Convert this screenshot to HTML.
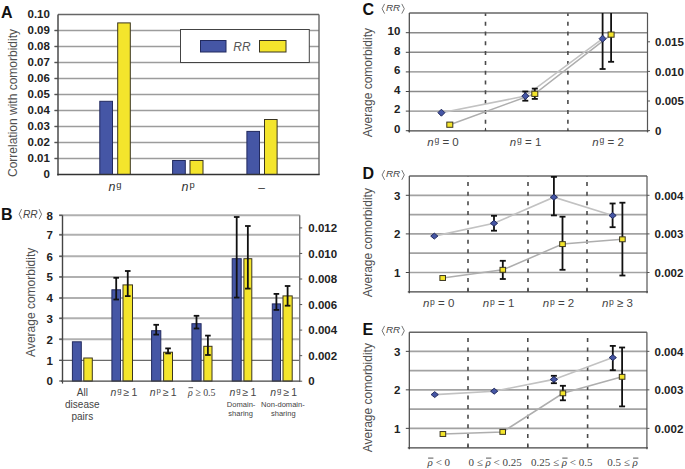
<!DOCTYPE html>
<html><head><meta charset="utf-8"><style>
html,body{margin:0;padding:0;background:#fff;overflow:hidden;width:685px;height:469px;}
svg{display:block;}
</style></head><body>
<svg width="685" height="469" viewBox="0 0 685 469">
<rect width="685" height="469" fill="#fff"/>
<line x1="54.5" y1="30.5" x2="319" y2="30.5" stroke="#9c9c9c" stroke-width="1.5" />
<line x1="54.5" y1="30.5" x2="58" y2="30.5" stroke="#555" stroke-width="1.2" />
<line x1="54.5" y1="46.5" x2="319" y2="46.5" stroke="#9c9c9c" stroke-width="1.5" />
<line x1="54.5" y1="46.5" x2="58" y2="46.5" stroke="#555" stroke-width="1.2" />
<line x1="54.5" y1="62.5" x2="319" y2="62.5" stroke="#9c9c9c" stroke-width="1.5" />
<line x1="54.5" y1="62.5" x2="58" y2="62.5" stroke="#555" stroke-width="1.2" />
<line x1="54.5" y1="78.5" x2="319" y2="78.5" stroke="#9c9c9c" stroke-width="1.5" />
<line x1="54.5" y1="78.5" x2="58" y2="78.5" stroke="#555" stroke-width="1.2" />
<line x1="54.5" y1="94.5" x2="319" y2="94.5" stroke="#9c9c9c" stroke-width="1.5" />
<line x1="54.5" y1="94.5" x2="58" y2="94.5" stroke="#555" stroke-width="1.2" />
<line x1="54.5" y1="110.5" x2="319" y2="110.5" stroke="#9c9c9c" stroke-width="1.5" />
<line x1="54.5" y1="110.5" x2="58" y2="110.5" stroke="#555" stroke-width="1.2" />
<line x1="54.5" y1="126.5" x2="319" y2="126.5" stroke="#9c9c9c" stroke-width="1.5" />
<line x1="54.5" y1="126.5" x2="58" y2="126.5" stroke="#555" stroke-width="1.2" />
<line x1="54.5" y1="142.5" x2="319" y2="142.5" stroke="#9c9c9c" stroke-width="1.5" />
<line x1="54.5" y1="142.5" x2="58" y2="142.5" stroke="#555" stroke-width="1.2" />
<line x1="54.5" y1="158.5" x2="319" y2="158.5" stroke="#9c9c9c" stroke-width="1.5" />
<line x1="54.5" y1="158.5" x2="58" y2="158.5" stroke="#555" stroke-width="1.2" />
<line x1="58" y1="14.5" x2="319" y2="14.5" stroke="#666" stroke-width="1.4" />
<line x1="319" y1="14.5" x2="319" y2="174.5" stroke="#666" stroke-width="1.4" />
<line x1="58" y1="14.5" x2="58" y2="175.5" stroke="#4a4a4a" stroke-width="1.5" />
<text x="49.9" y="18.1" font-family='"Liberation Sans", sans-serif' font-size="11.5" font-weight="bold" font-style="normal" fill="#222" text-anchor="end" >0.10</text>
<text x="49.9" y="34.1" font-family='"Liberation Sans", sans-serif' font-size="11.5" font-weight="bold" font-style="normal" fill="#222" text-anchor="end" >0.09</text>
<text x="49.9" y="50.1" font-family='"Liberation Sans", sans-serif' font-size="11.5" font-weight="bold" font-style="normal" fill="#222" text-anchor="end" >0.08</text>
<text x="49.9" y="66.1" font-family='"Liberation Sans", sans-serif' font-size="11.5" font-weight="bold" font-style="normal" fill="#222" text-anchor="end" >0.07</text>
<text x="49.9" y="82.1" font-family='"Liberation Sans", sans-serif' font-size="11.5" font-weight="bold" font-style="normal" fill="#222" text-anchor="end" >0.06</text>
<text x="49.9" y="98.1" font-family='"Liberation Sans", sans-serif' font-size="11.5" font-weight="bold" font-style="normal" fill="#222" text-anchor="end" >0.05</text>
<text x="49.9" y="114.1" font-family='"Liberation Sans", sans-serif' font-size="11.5" font-weight="bold" font-style="normal" fill="#222" text-anchor="end" >0.04</text>
<text x="49.9" y="130.1" font-family='"Liberation Sans", sans-serif' font-size="11.5" font-weight="bold" font-style="normal" fill="#222" text-anchor="end" >0.03</text>
<text x="49.9" y="146.1" font-family='"Liberation Sans", sans-serif' font-size="11.5" font-weight="bold" font-style="normal" fill="#222" text-anchor="end" >0.02</text>
<text x="49.9" y="162.1" font-family='"Liberation Sans", sans-serif' font-size="11.5" font-weight="bold" font-style="normal" fill="#222" text-anchor="end" >0.01</text>
<text x="49.9" y="178.1" font-family='"Liberation Sans", sans-serif' font-size="11.5" font-weight="bold" font-style="normal" fill="#222" text-anchor="end" >0</text>
<rect x="99.8" y="101.3" width="12.700000000000003" height="73.2" fill="#4556a5" stroke="#222a5e" stroke-width="1"/>
<rect x="117.7" y="22.9" width="12.600000000000009" height="151.6" fill="#f4e52c" stroke="#3a3520" stroke-width="1"/>
<rect x="172.6" y="160.5" width="12.700000000000017" height="14.0" fill="#4556a5" stroke="#222a5e" stroke-width="1"/>
<rect x="190.0" y="160.5" width="13.0" height="14.0" fill="#f4e52c" stroke="#3a3520" stroke-width="1"/>
<rect x="246.9" y="131.4" width="12.599999999999994" height="43.099999999999994" fill="#4556a5" stroke="#222a5e" stroke-width="1"/>
<rect x="264.5" y="119.5" width="12.600000000000023" height="55.0" fill="#f4e52c" stroke="#3a3520" stroke-width="1"/>
<line x1="57.3" y1="174.5" x2="319.7" y2="174.5" stroke="#333" stroke-width="1.4" />
<rect x="180.5" y="29.5" width="128.8" height="33" fill="#fff" stroke="#444" stroke-width="1"/>
<rect x="200.5" y="40.5" width="25.5" height="11.5" fill="#4556a5" stroke="#222a5e" stroke-width="1"/>
<rect x="259.5" y="40.5" width="26.5" height="11.5" fill="#f4e52c" stroke="#3a3520" stroke-width="1"/>
<text x="242" y="50.8" font-family='"Liberation Sans", sans-serif' font-size="12" font-weight="normal" font-style="italic" fill="#555" text-anchor="middle" >RR</text>
<text x="108.4" y="191.0" font-family='"Liberation Sans", sans-serif' font-size="12.5" fill="#333"><tspan font-style="italic">n</tspan><tspan font-size="9.375" dx="1.0" dy="-2.7">g</tspan><tspan dx="0" dy="2.7"></tspan></text>
<text x="181.6" y="190.8" font-family='"Liberation Sans", sans-serif' font-size="12.5" fill="#333"><tspan font-style="italic">n</tspan><tspan font-size="9.375" dx="1.0" dy="-2.7">p</tspan><tspan dx="0" dy="2.7"></tspan></text>
<text x="261.7" y="191.5" font-family='"Liberation Sans", sans-serif' font-size="12" font-weight="normal" font-style="normal" fill="#444444" text-anchor="middle" >–</text>
<text x="1" y="17.6" font-family='"Liberation Sans", sans-serif' font-size="16" font-weight="bold" font-style="normal" fill="#111" text-anchor="start" >A</text>
<text transform="translate(16.8,103) rotate(-90)" x="0" y="0" font-family='"Liberation Sans", sans-serif' font-size="12" fill="#505050" text-anchor="middle">Correlation with comorbidity</text>
<line x1="59.2" y1="360.4" x2="299.7" y2="360.4" stroke="#6a6a6a" stroke-width="1.2" />
<line x1="59.2" y1="339.2" x2="299.7" y2="339.2" stroke="#b0b0b0" stroke-width="2.0" />
<line x1="59.2" y1="318.3" x2="299.7" y2="318.3" stroke="#b0b0b0" stroke-width="2.0" />
<line x1="59.2" y1="298.0" x2="299.7" y2="298.0" stroke="#b0b0b0" stroke-width="2.0" />
<line x1="59.2" y1="276.9" x2="299.7" y2="276.9" stroke="#b0b0b0" stroke-width="2.0" />
<line x1="59.2" y1="256.3" x2="299.7" y2="256.3" stroke="#b0b0b0" stroke-width="2.0" />
<line x1="59.2" y1="234.8" x2="299.7" y2="234.8" stroke="#b0b0b0" stroke-width="2.0" />
<line x1="59.2" y1="215.3" x2="299.7" y2="215.3" stroke="#b0b0b0" stroke-width="2.0" />
<line x1="62.5" y1="215.3" x2="62.5" y2="381.1" stroke="#444" stroke-width="1.4" />
<line x1="299.7" y1="215.3" x2="299.7" y2="382.1" stroke="#777" stroke-width="1.4" />
<line x1="59.2" y1="381.0" x2="62.5" y2="381.0" stroke="#555" stroke-width="1.2" />
<text x="52.8" y="385.3" font-family='"Liberation Sans", sans-serif' font-size="11.5" font-weight="bold" font-style="normal" fill="#222" text-anchor="end" >0</text>
<line x1="59.2" y1="360.4" x2="62.5" y2="360.4" stroke="#555" stroke-width="1.2" />
<text x="52.8" y="364.7" font-family='"Liberation Sans", sans-serif' font-size="11.5" font-weight="bold" font-style="normal" fill="#222" text-anchor="end" >1</text>
<line x1="59.2" y1="339.2" x2="62.5" y2="339.2" stroke="#555" stroke-width="1.2" />
<text x="52.8" y="343.5" font-family='"Liberation Sans", sans-serif' font-size="11.5" font-weight="bold" font-style="normal" fill="#222" text-anchor="end" >2</text>
<line x1="59.2" y1="318.3" x2="62.5" y2="318.3" stroke="#555" stroke-width="1.2" />
<text x="52.8" y="322.6" font-family='"Liberation Sans", sans-serif' font-size="11.5" font-weight="bold" font-style="normal" fill="#222" text-anchor="end" >3</text>
<line x1="59.2" y1="298.0" x2="62.5" y2="298.0" stroke="#555" stroke-width="1.2" />
<text x="52.8" y="302.3" font-family='"Liberation Sans", sans-serif' font-size="11.5" font-weight="bold" font-style="normal" fill="#222" text-anchor="end" >4</text>
<line x1="59.2" y1="276.9" x2="62.5" y2="276.9" stroke="#555" stroke-width="1.2" />
<text x="52.8" y="281.2" font-family='"Liberation Sans", sans-serif' font-size="11.5" font-weight="bold" font-style="normal" fill="#222" text-anchor="end" >5</text>
<line x1="59.2" y1="256.3" x2="62.5" y2="256.3" stroke="#555" stroke-width="1.2" />
<text x="52.8" y="260.6" font-family='"Liberation Sans", sans-serif' font-size="11.5" font-weight="bold" font-style="normal" fill="#222" text-anchor="end" >6</text>
<line x1="59.2" y1="234.8" x2="62.5" y2="234.8" stroke="#555" stroke-width="1.2" />
<text x="52.8" y="239.10000000000002" font-family='"Liberation Sans", sans-serif' font-size="11.5" font-weight="bold" font-style="normal" fill="#222" text-anchor="end" >7</text>
<line x1="59.2" y1="215.3" x2="62.5" y2="215.3" stroke="#555" stroke-width="1.2" />
<text x="52.8" y="219.60000000000002" font-family='"Liberation Sans", sans-serif' font-size="11.5" font-weight="bold" font-style="normal" fill="#222" text-anchor="end" >8</text>
<line x1="299.7" y1="381.2" x2="302.2" y2="381.2" stroke="#555" stroke-width="1" />
<text x="308.3" y="385.3" font-family='"Liberation Sans", sans-serif' font-size="11.5" font-weight="bold" font-style="normal" fill="#222" text-anchor="start" >0</text>
<line x1="299.7" y1="355.65" x2="302.2" y2="355.65" stroke="#555" stroke-width="1" />
<text x="308.3" y="359.75" font-family='"Liberation Sans", sans-serif' font-size="11.5" font-weight="bold" font-style="normal" fill="#222" text-anchor="start" >0.002</text>
<line x1="299.7" y1="330.09999999999997" x2="302.2" y2="330.09999999999997" stroke="#555" stroke-width="1" />
<text x="308.3" y="334.2" font-family='"Liberation Sans", sans-serif' font-size="11.5" font-weight="bold" font-style="normal" fill="#222" text-anchor="start" >0.004</text>
<line x1="299.7" y1="304.54999999999995" x2="302.2" y2="304.54999999999995" stroke="#555" stroke-width="1" />
<text x="308.3" y="308.65" font-family='"Liberation Sans", sans-serif' font-size="11.5" font-weight="bold" font-style="normal" fill="#222" text-anchor="start" >0.006</text>
<line x1="299.7" y1="279.0" x2="302.2" y2="279.0" stroke="#555" stroke-width="1" />
<text x="308.3" y="283.1" font-family='"Liberation Sans", sans-serif' font-size="11.5" font-weight="bold" font-style="normal" fill="#222" text-anchor="start" >0.008</text>
<line x1="299.7" y1="253.45" x2="302.2" y2="253.45" stroke="#555" stroke-width="1" />
<text x="308.3" y="257.55" font-family='"Liberation Sans", sans-serif' font-size="11.5" font-weight="bold" font-style="normal" fill="#222" text-anchor="start" >0.010</text>
<line x1="299.7" y1="227.89999999999998" x2="302.2" y2="227.89999999999998" stroke="#555" stroke-width="1" />
<text x="308.3" y="231.99999999999997" font-family='"Liberation Sans", sans-serif' font-size="11.5" font-weight="bold" font-style="normal" fill="#222" text-anchor="start" >0.012</text>
<rect x="72.4" y="341.8" width="8.899999999999991" height="39.30000000000001" fill="#4556a5" stroke="#222a5e" stroke-width="1"/>
<rect x="83.8" y="358.0" width="8.5" height="23.100000000000023" fill="#f4e52c" stroke="#3a3520" stroke-width="1"/>
<rect x="111.9" y="289.8" width="8.599999999999994" height="91.30000000000001" fill="#4556a5" stroke="#222a5e" stroke-width="1"/>
<rect x="123.0" y="284.9" width="9.5" height="96.20000000000005" fill="#f4e52c" stroke="#3a3520" stroke-width="1"/>
<rect x="151.6" y="330.7" width="9.200000000000017" height="50.400000000000034" fill="#4556a5" stroke="#222a5e" stroke-width="1"/>
<rect x="163.6" y="352.2" width="8.900000000000006" height="28.900000000000034" fill="#f4e52c" stroke="#3a3520" stroke-width="1"/>
<rect x="191.9" y="323.7" width="9.199999999999989" height="57.400000000000034" fill="#4556a5" stroke="#222a5e" stroke-width="1"/>
<rect x="203.8" y="346.3" width="8.199999999999989" height="34.80000000000001" fill="#f4e52c" stroke="#3a3520" stroke-width="1"/>
<rect x="232.2" y="258.7" width="9.0" height="122.40000000000003" fill="#4556a5" stroke="#222a5e" stroke-width="1"/>
<rect x="243.9" y="258.7" width="7.900000000000006" height="122.40000000000003" fill="#f4e52c" stroke="#3a3520" stroke-width="1"/>
<rect x="272.3" y="303.9" width="8.199999999999989" height="77.20000000000005" fill="#4556a5" stroke="#222a5e" stroke-width="1"/>
<rect x="283.0" y="295.9" width="9.199999999999989" height="85.20000000000005" fill="#f4e52c" stroke="#3a3520" stroke-width="1"/>
<line x1="116.2" y1="277.8" x2="116.2" y2="299.5" stroke="#111" stroke-width="1.8" />
<line x1="113.4" y1="277.8" x2="119.0" y2="277.8" stroke="#111" stroke-width="1.8" />
<line x1="113.4" y1="299.5" x2="119.0" y2="299.5" stroke="#111" stroke-width="1.8" />
<line x1="127.75" y1="271.0" x2="127.75" y2="296.1" stroke="#111" stroke-width="1.8" />
<line x1="124.95" y1="271.0" x2="130.55" y2="271.0" stroke="#111" stroke-width="1.8" />
<line x1="124.95" y1="296.1" x2="130.55" y2="296.1" stroke="#111" stroke-width="1.8" />
<line x1="156.2" y1="324.8" x2="156.2" y2="334.6" stroke="#111" stroke-width="1.8" />
<line x1="153.39999999999998" y1="324.8" x2="159.0" y2="324.8" stroke="#111" stroke-width="1.8" />
<line x1="153.39999999999998" y1="334.6" x2="159.0" y2="334.6" stroke="#111" stroke-width="1.8" />
<line x1="168.05" y1="348.4" x2="168.05" y2="353.4" stroke="#111" stroke-width="1.8" />
<line x1="165.25" y1="348.4" x2="170.85000000000002" y2="348.4" stroke="#111" stroke-width="1.8" />
<line x1="165.25" y1="353.4" x2="170.85000000000002" y2="353.4" stroke="#111" stroke-width="1.8" />
<line x1="196.5" y1="315.8" x2="196.5" y2="328.5" stroke="#111" stroke-width="1.8" />
<line x1="193.7" y1="315.8" x2="199.3" y2="315.8" stroke="#111" stroke-width="1.8" />
<line x1="193.7" y1="328.5" x2="199.3" y2="328.5" stroke="#111" stroke-width="1.8" />
<line x1="207.9" y1="335.6" x2="207.9" y2="355.0" stroke="#111" stroke-width="1.8" />
<line x1="205.1" y1="335.6" x2="210.70000000000002" y2="335.6" stroke="#111" stroke-width="1.8" />
<line x1="205.1" y1="355.0" x2="210.70000000000002" y2="355.0" stroke="#111" stroke-width="1.8" />
<line x1="236.7" y1="217.0" x2="236.7" y2="297.6" stroke="#111" stroke-width="1.8" />
<line x1="233.89999999999998" y1="217.0" x2="239.5" y2="217.0" stroke="#111" stroke-width="1.8" />
<line x1="233.89999999999998" y1="297.6" x2="239.5" y2="297.6" stroke="#111" stroke-width="1.8" />
<line x1="247.85000000000002" y1="226.0" x2="247.85000000000002" y2="288.6" stroke="#111" stroke-width="1.8" />
<line x1="245.05" y1="226.0" x2="250.65000000000003" y2="226.0" stroke="#111" stroke-width="1.8" />
<line x1="245.05" y1="288.6" x2="250.65000000000003" y2="288.6" stroke="#111" stroke-width="1.8" />
<line x1="276.4" y1="293.9" x2="276.4" y2="309.9" stroke="#111" stroke-width="1.8" />
<line x1="273.59999999999997" y1="293.9" x2="279.2" y2="293.9" stroke="#111" stroke-width="1.8" />
<line x1="273.59999999999997" y1="309.9" x2="279.2" y2="309.9" stroke="#111" stroke-width="1.8" />
<line x1="287.6" y1="286.0" x2="287.6" y2="305.7" stroke="#111" stroke-width="1.8" />
<line x1="284.8" y1="286.0" x2="290.40000000000003" y2="286.0" stroke="#111" stroke-width="1.8" />
<line x1="284.8" y1="305.7" x2="290.40000000000003" y2="305.7" stroke="#111" stroke-width="1.8" />
<line x1="61.0" y1="381.1" x2="299.7" y2="381.1" stroke="#444" stroke-width="1.3" />
<line x1="62.5" y1="381.1" x2="62.5" y2="383.6" stroke="#444" stroke-width="1.2" />
<text x="1" y="219.6" font-family='"Liberation Sans", sans-serif' font-size="16" font-weight="bold" font-style="normal" fill="#111" text-anchor="start" >B</text>
<path d="M21.6,209.1 L19.1,214.2 L21.6,219.3" fill="none" stroke="#666" stroke-width="0.9"/>
<path d="M39.1,209.1 L41.6,214.2 L39.1,219.3" fill="none" stroke="#666" stroke-width="0.9"/>
<text x="22.9" y="217.8" font-family='"Liberation Sans", sans-serif' font-size="10.2" font-style="italic" fill="#444">RR</text>
<text transform="translate(35.3,302.3) rotate(-90)" x="0" y="0" font-family='"Liberation Sans", sans-serif' font-size="12" fill="#505050" text-anchor="middle">Average comorbidity</text>
<text x="82.3" y="396.3" font-family='"Liberation Sans", sans-serif' font-size="10" font-weight="normal" font-style="normal" fill="#444444" text-anchor="middle" >All</text>
<text x="82.3" y="408.0" font-family='"Liberation Sans", sans-serif' font-size="10" font-weight="normal" font-style="normal" fill="#444444" text-anchor="middle" >disease</text>
<text x="82.3" y="420.0" font-family='"Liberation Sans", sans-serif' font-size="10" font-weight="normal" font-style="normal" fill="#444444" text-anchor="middle" >pairs</text>
<text x="110.5" y="396.3" font-family='"Liberation Sans", sans-serif' font-size="10.5" fill="#444"><tspan font-style="italic">n</tspan><tspan font-size="7.875" dx="0.8" dy="-3.2">g</tspan><tspan dx="0" dy="3.2"> ≥ 1</tspan></text>
<text x="149.8" y="396.3" font-family='"Liberation Sans", sans-serif' font-size="10.5" fill="#444"><tspan font-style="italic">n</tspan><tspan font-size="7.875" dx="0.8" dy="-3.2">p</tspan><tspan dx="0" dy="3.2"> ≥ 1</tspan></text>
<text x="229.5" y="396.3" font-family='"Liberation Sans", sans-serif' font-size="10.5" fill="#444"><tspan font-style="italic">n</tspan><tspan font-size="7.875" dx="0.8" dy="-3.2">g</tspan><tspan dx="0" dy="3.2"> ≥ 1</tspan></text>
<text x="270.3" y="396.3" font-family='"Liberation Sans", sans-serif' font-size="10.5" fill="#444"><tspan font-style="italic">n</tspan><tspan font-size="7.875" dx="0.8" dy="-3.2">g</tspan><tspan dx="0" dy="3.2"> ≥ 1</tspan></text>
<text x="241.1" y="407.4" font-family='"Liberation Sans", sans-serif' font-size="8.0" font-weight="normal" font-style="normal" fill="#444444" text-anchor="middle" textLength="28.6" lengthAdjust="spacingAndGlyphs">Domain-</text>
<text x="240.6" y="416.4" font-family='"Liberation Sans", sans-serif' font-size="8.0" font-weight="normal" font-style="normal" fill="#444444" text-anchor="middle" textLength="24.6" lengthAdjust="spacingAndGlyphs">sharing</text>
<text x="282.9" y="407.4" font-family='"Liberation Sans", sans-serif' font-size="8.0" font-weight="normal" font-style="normal" fill="#444444" text-anchor="middle" textLength="43.8" lengthAdjust="spacingAndGlyphs">Non-domain-</text>
<text x="283.3" y="416.4" font-family='"Liberation Sans", sans-serif' font-size="8.0" font-weight="normal" font-style="normal" fill="#444444" text-anchor="middle" textLength="24.6" lengthAdjust="spacingAndGlyphs">sharing</text>
<line x1="409.3" y1="111.1" x2="647.5" y2="111.1" stroke="#8a8a8a" stroke-width="1.4" />
<line x1="409.3" y1="91.49999999999999" x2="647.5" y2="91.49999999999999" stroke="#8a8a8a" stroke-width="1.4" />
<line x1="409.3" y1="71.89999999999998" x2="647.5" y2="71.89999999999998" stroke="#8a8a8a" stroke-width="1.4" />
<line x1="409.3" y1="52.29999999999998" x2="647.5" y2="52.29999999999998" stroke="#8a8a8a" stroke-width="1.4" />
<line x1="409.3" y1="32.69999999999999" x2="647.5" y2="32.69999999999999" stroke="#8a8a8a" stroke-width="1.4" />
<line x1="485.5" y1="13.0" x2="485.5" y2="130.9" stroke="#4a4a4a" stroke-width="1.6" stroke-dasharray="4 5.8" stroke-dashoffset="1.1"/>
<line x1="485.5" y1="127.9" x2="485.5" y2="130.9" stroke="#444" stroke-width="1" />
<line x1="567.9" y1="13.0" x2="567.9" y2="130.9" stroke="#4a4a4a" stroke-width="1.6" stroke-dasharray="4 5.8" stroke-dashoffset="1.1"/>
<line x1="567.9" y1="127.9" x2="567.9" y2="130.9" stroke="#444" stroke-width="1" />
<line x1="409.3" y1="13.0" x2="647.5" y2="13.0" stroke="#666" stroke-width="1.4" />
<line x1="409.3" y1="13.0" x2="409.3" y2="132.4" stroke="#444" stroke-width="1.2" />
<line x1="647.5" y1="13.0" x2="647.5" y2="132.4" stroke="#555" stroke-width="1.2" />
<line x1="407.8" y1="130.9" x2="648.5" y2="130.9" stroke="#444" stroke-width="1.3" />
<line x1="405.8" y1="130.7" x2="409.3" y2="130.7" stroke="#444" stroke-width="1" />
<text x="400.3" y="132.89999999999998" font-family='"Liberation Sans", sans-serif' font-size="11.5" font-weight="bold" font-style="normal" fill="#222" text-anchor="end" >0</text>
<line x1="405.8" y1="111.1" x2="409.3" y2="111.1" stroke="#444" stroke-width="1" />
<text x="400.3" y="113.3" font-family='"Liberation Sans", sans-serif' font-size="11.5" font-weight="bold" font-style="normal" fill="#222" text-anchor="end" >2</text>
<line x1="405.8" y1="91.49999999999999" x2="409.3" y2="91.49999999999999" stroke="#444" stroke-width="1" />
<text x="400.3" y="93.69999999999999" font-family='"Liberation Sans", sans-serif' font-size="11.5" font-weight="bold" font-style="normal" fill="#222" text-anchor="end" >4</text>
<line x1="405.8" y1="71.89999999999998" x2="409.3" y2="71.89999999999998" stroke="#444" stroke-width="1" />
<text x="400.3" y="74.09999999999998" font-family='"Liberation Sans", sans-serif' font-size="11.5" font-weight="bold" font-style="normal" fill="#222" text-anchor="end" >6</text>
<line x1="405.8" y1="52.29999999999998" x2="409.3" y2="52.29999999999998" stroke="#444" stroke-width="1" />
<text x="400.3" y="54.499999999999986" font-family='"Liberation Sans", sans-serif' font-size="11.5" font-weight="bold" font-style="normal" fill="#222" text-anchor="end" >8</text>
<line x1="405.8" y1="32.69999999999999" x2="409.3" y2="32.69999999999999" stroke="#444" stroke-width="1" />
<text x="400.3" y="34.89999999999999" font-family='"Liberation Sans", sans-serif' font-size="11.5" font-weight="bold" font-style="normal" fill="#222" text-anchor="end" >10</text>
<line x1="647.5" y1="130.6" x2="650.0" y2="130.6" stroke="#555" stroke-width="1" />
<text x="655.1" y="134.9" font-family='"Liberation Sans", sans-serif' font-size="11.5" font-weight="bold" font-style="normal" fill="#222" text-anchor="start" >0</text>
<line x1="647.5" y1="101.0" x2="650.0" y2="101.0" stroke="#555" stroke-width="1" />
<text x="655.1" y="105.3" font-family='"Liberation Sans", sans-serif' font-size="11.5" font-weight="bold" font-style="normal" fill="#222" text-anchor="start" >0.005</text>
<line x1="647.5" y1="71.4" x2="650.0" y2="71.4" stroke="#555" stroke-width="1" />
<text x="655.1" y="75.7" font-family='"Liberation Sans", sans-serif' font-size="11.5" font-weight="bold" font-style="normal" fill="#222" text-anchor="start" >0.010</text>
<line x1="647.5" y1="41.8" x2="650.0" y2="41.8" stroke="#555" stroke-width="1" />
<text x="655.1" y="46.099999999999994" font-family='"Liberation Sans", sans-serif' font-size="11.5" font-weight="bold" font-style="normal" fill="#222" text-anchor="start" >0.015</text>
<polyline points="441.4,112.7 525.3,96.1 602.6,38.7" fill="none" stroke="#c2c2c2" stroke-width="1.6"/>
<polyline points="449.8,124.7 534.8,93.8 611.1,34.6" fill="none" stroke="#aeaeae" stroke-width="1.5"/>
<line x1="525.3" y1="91.5" x2="525.3" y2="100.7" stroke="#111" stroke-width="1.8" />
<line x1="522.3" y1="91.5" x2="528.3" y2="91.5" stroke="#111" stroke-width="1.8" />
<line x1="522.3" y1="100.7" x2="528.3" y2="100.7" stroke="#111" stroke-width="1.8" />
<line x1="602.6" y1="13.0" x2="602.6" y2="69.0" stroke="#111" stroke-width="1.8" />
<line x1="599.6" y1="69.0" x2="605.6" y2="69.0" stroke="#111" stroke-width="1.8" />
<line x1="534.8" y1="88.6" x2="534.8" y2="98.9" stroke="#111" stroke-width="1.8" />
<line x1="531.8" y1="88.6" x2="537.8" y2="88.6" stroke="#111" stroke-width="1.8" />
<line x1="531.8" y1="98.9" x2="537.8" y2="98.9" stroke="#111" stroke-width="1.8" />
<line x1="611.1" y1="13.0" x2="611.1" y2="61.8" stroke="#111" stroke-width="1.8" />
<line x1="608.1" y1="61.8" x2="614.1" y2="61.8" stroke="#111" stroke-width="1.8" />
<path d="M437.9,112.7 L441.4,109.2 L444.9,112.7 L441.4,116.2 Z" fill="#4556a5" stroke="#222a5e" stroke-width="1"/>
<path d="M521.8,96.1 L525.3,92.6 L528.8,96.1 L525.3,99.6 Z" fill="#4556a5" stroke="#222a5e" stroke-width="1"/>
<path d="M599.1,38.7 L602.6,35.2 L606.1,38.7 L602.6,42.2 Z" fill="#4556a5" stroke="#222a5e" stroke-width="1"/>
<rect x="446.8" y="122.10000000000001" width="6.0" height="5.2" fill="#f4e52c" stroke="#3a3520" stroke-width="1"/>
<rect x="531.8" y="91.2" width="6.0" height="5.2" fill="#f4e52c" stroke="#3a3520" stroke-width="1"/>
<rect x="608.1" y="32.0" width="6.0" height="5.2" fill="#f4e52c" stroke="#3a3520" stroke-width="1"/>
<text x="362.5" y="15.0" font-family='"Liberation Sans", sans-serif' font-size="16" font-weight="bold" font-style="normal" fill="#111" text-anchor="start" >C</text>
<path d="M384.6,3.9 L382.1,8.75 L384.6,13.6" fill="none" stroke="#666" stroke-width="0.9"/>
<path d="M401.8,3.9 L404.3,8.75 L401.8,13.6" fill="none" stroke="#666" stroke-width="0.9"/>
<text x="385.9" y="10.9" font-family='"Liberation Sans", sans-serif' font-size="9.9" font-style="italic" fill="#444">RR</text>
<text transform="translate(372.3,82.6) rotate(-90)" x="0" y="0" font-family='"Liberation Sans", sans-serif' font-size="12" fill="#505050" text-anchor="middle">Average comorbidity</text>
<text x="427.2" y="145.7" font-family='"Liberation Sans", sans-serif' font-size="11.5" fill="#444"><tspan font-style="italic">n</tspan><tspan font-size="8.625" dx="0.8" dy="-2.8">g</tspan><tspan dx="0" dy="2.8"> = 0</tspan></text>
<text x="509.8" y="145.7" font-family='"Liberation Sans", sans-serif' font-size="11.5" fill="#444"><tspan font-style="italic">n</tspan><tspan font-size="8.625" dx="0.8" dy="-2.8">g</tspan><tspan dx="0" dy="2.8"> = 1</tspan></text>
<text x="592.3" y="145.7" font-family='"Liberation Sans", sans-serif' font-size="11.5" fill="#444"><tspan font-style="italic">n</tspan><tspan font-size="8.625" dx="0.8" dy="-2.8">g</tspan><tspan dx="0" dy="2.8"> = 2</tspan></text>
<line x1="409.3" y1="272.5" x2="647.0" y2="272.5" stroke="#a2a2a2" stroke-width="1.7" />
<line x1="409.3" y1="253.20000000000002" x2="647.0" y2="253.20000000000002" stroke="#a2a2a2" stroke-width="1.7" />
<line x1="409.3" y1="233.9" x2="647.0" y2="233.9" stroke="#a2a2a2" stroke-width="1.7" />
<line x1="409.3" y1="214.60000000000002" x2="647.0" y2="214.60000000000002" stroke="#a2a2a2" stroke-width="1.7" />
<line x1="409.3" y1="195.3" x2="647.0" y2="195.3" stroke="#a2a2a2" stroke-width="1.7" />
<line x1="468.0" y1="176.0" x2="468.0" y2="291.8" stroke="#4a4a4a" stroke-width="1.6" stroke-dasharray="4 5.6" stroke-dashoffset="3.5"/>
<line x1="468.0" y1="288.8" x2="468.0" y2="291.8" stroke="#444" stroke-width="1" />
<line x1="528.0" y1="176.0" x2="528.0" y2="291.8" stroke="#4a4a4a" stroke-width="1.6" stroke-dasharray="4 5.6" stroke-dashoffset="3.5"/>
<line x1="528.0" y1="288.8" x2="528.0" y2="291.8" stroke="#444" stroke-width="1" />
<line x1="587.0" y1="176.0" x2="587.0" y2="291.8" stroke="#4a4a4a" stroke-width="1.6" stroke-dasharray="4 5.6" stroke-dashoffset="3.5"/>
<line x1="587.0" y1="288.8" x2="587.0" y2="291.8" stroke="#444" stroke-width="1" />
<line x1="409.3" y1="176.0" x2="647.0" y2="176.0" stroke="#666" stroke-width="1.4" />
<line x1="409.3" y1="176.0" x2="409.3" y2="293.3" stroke="#444" stroke-width="1.2" />
<line x1="647.0" y1="176.0" x2="647.0" y2="293.3" stroke="#555" stroke-width="1.2" />
<line x1="407.8" y1="291.8" x2="648.0" y2="291.8" stroke="#444" stroke-width="1.3" />
<line x1="405.8" y1="272.5" x2="409.3" y2="272.5" stroke="#444" stroke-width="1" />
<text x="400.3" y="276.9" font-family='"Liberation Sans", sans-serif' font-size="11.5" font-weight="bold" font-style="normal" fill="#222" text-anchor="end" >1</text>
<line x1="405.8" y1="233.9" x2="409.3" y2="233.9" stroke="#444" stroke-width="1" />
<text x="400.3" y="238.3" font-family='"Liberation Sans", sans-serif' font-size="11.5" font-weight="bold" font-style="normal" fill="#222" text-anchor="end" >2</text>
<line x1="405.8" y1="195.3" x2="409.3" y2="195.3" stroke="#444" stroke-width="1" />
<text x="400.3" y="199.70000000000002" font-family='"Liberation Sans", sans-serif' font-size="11.5" font-weight="bold" font-style="normal" fill="#222" text-anchor="end" >3</text>
<line x1="647.0" y1="272.5" x2="649.5" y2="272.5" stroke="#555" stroke-width="1" />
<text x="654.6" y="276.8" font-family='"Liberation Sans", sans-serif' font-size="11.5" font-weight="bold" font-style="normal" fill="#222" text-anchor="start" >0.002</text>
<line x1="647.0" y1="233.9" x2="649.5" y2="233.9" stroke="#555" stroke-width="1" />
<text x="654.6" y="238.20000000000002" font-family='"Liberation Sans", sans-serif' font-size="11.5" font-weight="bold" font-style="normal" fill="#222" text-anchor="start" >0.003</text>
<line x1="647.0" y1="195.3" x2="649.5" y2="195.3" stroke="#555" stroke-width="1" />
<text x="654.6" y="199.60000000000002" font-family='"Liberation Sans", sans-serif' font-size="11.5" font-weight="bold" font-style="normal" fill="#222" text-anchor="start" >0.004</text>
<polyline points="434.3,236.1 494.0,223.3 553.9,197.2 612.6,215.5" fill="none" stroke="#c2c2c2" stroke-width="1.6"/>
<polyline points="442.7,278.0 502.8,269.8 562.5,244.1 622.4,239.3" fill="none" stroke="#aeaeae" stroke-width="1.5"/>
<line x1="494.0" y1="215.8" x2="494.0" y2="230.7" stroke="#111" stroke-width="1.8" />
<line x1="491.0" y1="215.8" x2="497.0" y2="215.8" stroke="#111" stroke-width="1.8" />
<line x1="491.0" y1="230.7" x2="497.0" y2="230.7" stroke="#111" stroke-width="1.8" />
<line x1="553.9" y1="176.9" x2="553.9" y2="215.4" stroke="#111" stroke-width="1.8" />
<line x1="550.9" y1="176.9" x2="556.9" y2="176.9" stroke="#111" stroke-width="1.8" />
<line x1="550.9" y1="215.4" x2="556.9" y2="215.4" stroke="#111" stroke-width="1.8" />
<line x1="612.6" y1="203.5" x2="612.6" y2="227.2" stroke="#111" stroke-width="1.8" />
<line x1="609.6" y1="203.5" x2="615.6" y2="203.5" stroke="#111" stroke-width="1.8" />
<line x1="609.6" y1="227.2" x2="615.6" y2="227.2" stroke="#111" stroke-width="1.8" />
<line x1="502.8" y1="260.8" x2="502.8" y2="279.0" stroke="#111" stroke-width="1.8" />
<line x1="499.8" y1="260.8" x2="505.8" y2="260.8" stroke="#111" stroke-width="1.8" />
<line x1="499.8" y1="279.0" x2="505.8" y2="279.0" stroke="#111" stroke-width="1.8" />
<line x1="562.5" y1="216.7" x2="562.5" y2="269.8" stroke="#111" stroke-width="1.8" />
<line x1="559.5" y1="216.7" x2="565.5" y2="216.7" stroke="#111" stroke-width="1.8" />
<line x1="559.5" y1="269.8" x2="565.5" y2="269.8" stroke="#111" stroke-width="1.8" />
<line x1="622.4" y1="202.7" x2="622.4" y2="275.5" stroke="#111" stroke-width="1.8" />
<line x1="619.4" y1="202.7" x2="625.4" y2="202.7" stroke="#111" stroke-width="1.8" />
<line x1="619.4" y1="275.5" x2="625.4" y2="275.5" stroke="#111" stroke-width="1.8" />
<path d="M430.7,236.1 L434.3,233.15 L437.90000000000003,236.1 L434.3,239.04999999999998 Z" fill="#4556a5" stroke="#222a5e" stroke-width="1"/>
<path d="M490.4,223.3 L494.0,220.35000000000002 L497.6,223.3 L494.0,226.25 Z" fill="#4556a5" stroke="#222a5e" stroke-width="1"/>
<path d="M550.3,197.2 L553.9,194.25 L557.5,197.2 L553.9,200.14999999999998 Z" fill="#4556a5" stroke="#222a5e" stroke-width="1"/>
<path d="M609.0,215.5 L612.6,212.55 L616.2,215.5 L612.6,218.45 Z" fill="#4556a5" stroke="#222a5e" stroke-width="1"/>
<rect x="439.9" y="275.55" width="5.6" height="4.9" fill="#f4e52c" stroke="#3a3520" stroke-width="1"/>
<rect x="500.0" y="267.35" width="5.6" height="4.9" fill="#f4e52c" stroke="#3a3520" stroke-width="1"/>
<rect x="559.7" y="241.65" width="5.6" height="4.9" fill="#f4e52c" stroke="#3a3520" stroke-width="1"/>
<rect x="619.6" y="236.85000000000002" width="5.6" height="4.9" fill="#f4e52c" stroke="#3a3520" stroke-width="1"/>
<text x="362.5" y="178.6" font-family='"Liberation Sans", sans-serif' font-size="16" font-weight="bold" font-style="normal" fill="#111" text-anchor="start" >D</text>
<path d="M384.6,170.1 L382.1,174.95 L384.6,179.8" fill="none" stroke="#666" stroke-width="0.9"/>
<path d="M401.8,170.1 L404.3,174.95 L401.8,179.8" fill="none" stroke="#666" stroke-width="0.9"/>
<text x="385.9" y="177.1" font-family='"Liberation Sans", sans-serif' font-size="9.9" font-style="italic" fill="#444">RR</text>
<text transform="translate(372.3,242.7) rotate(-90)" x="0" y="0" font-family='"Liberation Sans", sans-serif' font-size="12" fill="#505050" text-anchor="middle">Average comorbidity</text>
<text x="422.9" y="307.0" font-family='"Liberation Sans", sans-serif' font-size="11.5" fill="#444"><tspan font-style="italic">n</tspan><tspan font-size="8.625" dx="0.8" dy="-2.5">p</tspan><tspan dx="0" dy="2.5"> = 0</tspan></text>
<text x="482.8" y="307.0" font-family='"Liberation Sans", sans-serif' font-size="11.5" fill="#444"><tspan font-style="italic">n</tspan><tspan font-size="8.625" dx="0.8" dy="-2.5">p</tspan><tspan dx="0" dy="2.5"> = 1</tspan></text>
<text x="542.7" y="307.0" font-family='"Liberation Sans", sans-serif' font-size="11.5" fill="#444"><tspan font-style="italic">n</tspan><tspan font-size="8.625" dx="0.8" dy="-2.5">p</tspan><tspan dx="0" dy="2.5"> = 2</tspan></text>
<text x="601.9" y="307.0" font-family='"Liberation Sans", sans-serif' font-size="11.5" fill="#444"><tspan font-style="italic">n</tspan><tspan font-size="8.625" dx="0.8" dy="-2.5">p</tspan><tspan dx="0" dy="2.5"> ≥ 3</tspan></text>
<line x1="409.3" y1="428.35" x2="646.9" y2="428.35" stroke="#a2a2a2" stroke-width="1.7" />
<line x1="409.3" y1="409.1" x2="646.9" y2="409.1" stroke="#a2a2a2" stroke-width="1.7" />
<line x1="409.3" y1="389.85" x2="646.9" y2="389.85" stroke="#a2a2a2" stroke-width="1.7" />
<line x1="409.3" y1="370.6" x2="646.9" y2="370.6" stroke="#a2a2a2" stroke-width="1.7" />
<line x1="409.3" y1="351.35" x2="646.9" y2="351.35" stroke="#a2a2a2" stroke-width="1.7" />
<line x1="468.0" y1="332.3" x2="468.0" y2="447.8" stroke="#4a4a4a" stroke-width="1.6" stroke-dasharray="4 5.6" stroke-dashoffset="4"/>
<line x1="468.0" y1="444.8" x2="468.0" y2="447.8" stroke="#444" stroke-width="1" />
<line x1="527.8" y1="332.3" x2="527.8" y2="447.8" stroke="#4a4a4a" stroke-width="1.6" stroke-dasharray="4 5.6" stroke-dashoffset="4"/>
<line x1="527.8" y1="444.8" x2="527.8" y2="447.8" stroke="#444" stroke-width="1" />
<line x1="587.6" y1="332.3" x2="587.6" y2="447.8" stroke="#4a4a4a" stroke-width="1.6" stroke-dasharray="4 5.6" stroke-dashoffset="4"/>
<line x1="587.6" y1="444.8" x2="587.6" y2="447.8" stroke="#444" stroke-width="1" />
<line x1="409.3" y1="332.3" x2="646.9" y2="332.3" stroke="#666" stroke-width="1.4" />
<line x1="409.3" y1="332.3" x2="409.3" y2="449.3" stroke="#444" stroke-width="1.2" />
<line x1="646.9" y1="332.3" x2="646.9" y2="449.3" stroke="#555" stroke-width="1.2" />
<line x1="407.8" y1="447.8" x2="647.9" y2="447.8" stroke="#444" stroke-width="1.3" />
<line x1="405.8" y1="428.35" x2="409.3" y2="428.35" stroke="#444" stroke-width="1" />
<text x="400.3" y="432.75" font-family='"Liberation Sans", sans-serif' font-size="11.5" font-weight="bold" font-style="normal" fill="#222" text-anchor="end" >1</text>
<line x1="405.8" y1="389.85" x2="409.3" y2="389.85" stroke="#444" stroke-width="1" />
<text x="400.3" y="394.25" font-family='"Liberation Sans", sans-serif' font-size="11.5" font-weight="bold" font-style="normal" fill="#222" text-anchor="end" >2</text>
<line x1="405.8" y1="351.35" x2="409.3" y2="351.35" stroke="#444" stroke-width="1" />
<text x="400.3" y="355.75" font-family='"Liberation Sans", sans-serif' font-size="11.5" font-weight="bold" font-style="normal" fill="#222" text-anchor="end" >3</text>
<line x1="646.9" y1="428.35" x2="649.4" y2="428.35" stroke="#555" stroke-width="1" />
<text x="654.5" y="432.65000000000003" font-family='"Liberation Sans", sans-serif' font-size="11.5" font-weight="bold" font-style="normal" fill="#222" text-anchor="start" >0.002</text>
<line x1="646.9" y1="389.85" x2="649.4" y2="389.85" stroke="#555" stroke-width="1" />
<text x="654.5" y="394.15000000000003" font-family='"Liberation Sans", sans-serif' font-size="11.5" font-weight="bold" font-style="normal" fill="#222" text-anchor="start" >0.003</text>
<line x1="646.9" y1="351.35" x2="649.4" y2="351.35" stroke="#555" stroke-width="1" />
<text x="654.5" y="355.65000000000003" font-family='"Liberation Sans", sans-serif' font-size="11.5" font-weight="bold" font-style="normal" fill="#222" text-anchor="start" >0.004</text>
<polyline points="434.7,394.6 494.2,391.2 553.9,379.4 612.8,357.6" fill="none" stroke="#c2c2c2" stroke-width="1.6"/>
<polyline points="442.9,434.0 502.7,431.9 562.9,393.3 622.1,376.8" fill="none" stroke="#aeaeae" stroke-width="1.5"/>
<line x1="553.9" y1="375.8" x2="553.9" y2="383.2" stroke="#111" stroke-width="1.8" />
<line x1="550.9" y1="375.8" x2="556.9" y2="375.8" stroke="#111" stroke-width="1.8" />
<line x1="550.9" y1="383.2" x2="556.9" y2="383.2" stroke="#111" stroke-width="1.8" />
<line x1="612.8" y1="345.9" x2="612.8" y2="370.2" stroke="#111" stroke-width="1.8" />
<line x1="609.8" y1="345.9" x2="615.8" y2="345.9" stroke="#111" stroke-width="1.8" />
<line x1="609.8" y1="370.2" x2="615.8" y2="370.2" stroke="#111" stroke-width="1.8" />
<line x1="562.9" y1="385.8" x2="562.9" y2="400.3" stroke="#111" stroke-width="1.8" />
<line x1="559.9" y1="385.8" x2="565.9" y2="385.8" stroke="#111" stroke-width="1.8" />
<line x1="559.9" y1="400.3" x2="565.9" y2="400.3" stroke="#111" stroke-width="1.8" />
<line x1="622.1" y1="347.5" x2="622.1" y2="406.4" stroke="#111" stroke-width="1.8" />
<line x1="619.1" y1="347.5" x2="625.1" y2="347.5" stroke="#111" stroke-width="1.8" />
<line x1="619.1" y1="406.4" x2="625.1" y2="406.4" stroke="#111" stroke-width="1.8" />
<path d="M431.09999999999997,394.6 L434.7,391.65000000000003 L438.3,394.6 L434.7,397.55 Z" fill="#4556a5" stroke="#222a5e" stroke-width="1"/>
<path d="M490.59999999999997,391.2 L494.2,388.25 L497.8,391.2 L494.2,394.15 Z" fill="#4556a5" stroke="#222a5e" stroke-width="1"/>
<path d="M550.3,379.4 L553.9,376.45 L557.5,379.4 L553.9,382.34999999999997 Z" fill="#4556a5" stroke="#222a5e" stroke-width="1"/>
<path d="M609.1999999999999,357.6 L612.8,354.65000000000003 L616.4,357.6 L612.8,360.55 Z" fill="#4556a5" stroke="#222a5e" stroke-width="1"/>
<rect x="440.09999999999997" y="431.55" width="5.6" height="4.9" fill="#f4e52c" stroke="#3a3520" stroke-width="1"/>
<rect x="499.9" y="429.45" width="5.6" height="4.9" fill="#f4e52c" stroke="#3a3520" stroke-width="1"/>
<rect x="560.1" y="390.85" width="5.6" height="4.9" fill="#f4e52c" stroke="#3a3520" stroke-width="1"/>
<rect x="619.3000000000001" y="374.35" width="5.6" height="4.9" fill="#f4e52c" stroke="#3a3520" stroke-width="1"/>
<text x="362.5" y="334.5" font-family='"Liberation Sans", sans-serif' font-size="16" font-weight="bold" font-style="normal" fill="#111" text-anchor="start" >E</text>
<path d="M384.6,325.9 L382.1,330.75 L384.6,335.6" fill="none" stroke="#666" stroke-width="0.9"/>
<path d="M401.8,325.9 L404.3,330.75 L401.8,335.6" fill="none" stroke="#666" stroke-width="0.9"/>
<text x="385.9" y="332.9" font-family='"Liberation Sans", sans-serif' font-size="9.9" font-style="italic" fill="#444">RR</text>
<text transform="translate(372.3,397.7) rotate(-90)" x="0" y="0" font-family='"Liberation Sans", sans-serif' font-size="12" fill="#505050" text-anchor="middle">Average comorbidity</text>
<text x="427.6" y="466.2" font-family='"Liberation Serif", serif' font-size="11" fill="#444444" ><tspan font-style="italic">ρ</tspan> &lt; 0</text>
<line x1="428.1" y1="458.1" x2="433.4" y2="458.1" stroke="#444444" stroke-width="0.9" />
<text x="468.5" y="466.2" font-family='"Liberation Serif", serif' font-size="11" fill="#444444" >0 ≤ <tspan font-style="italic">ρ</tspan> &lt; 0.25</text>
<line x1="486.04" y1="458.1" x2="491.34" y2="458.1" stroke="#444444" stroke-width="0.9" />
<text x="531.0" y="466.2" font-family='"Liberation Serif", serif' font-size="11" fill="#444444" >0.25 ≤ <tspan font-style="italic">ρ</tspan> &lt; 0.5</text>
<line x1="562.29" y1="458.1" x2="567.59" y2="458.1" stroke="#444444" stroke-width="0.9" />
<text x="607.3" y="466.2" font-family='"Liberation Serif", serif' font-size="11" fill="#444444" >0.5 ≤ <tspan font-style="italic">ρ</tspan></text>
<line x1="633.09" y1="458.1" x2="638.39" y2="458.1" stroke="#444444" stroke-width="0.9" />
<text x="188.0" y="395.8" font-family='"Liberation Serif", serif' font-size="11.2" fill="#444444" textLength="27.5" lengthAdjust="spacingAndGlyphs"><tspan font-style="italic">ρ</tspan> ≥ 0.5</text>
<line x1="188.5" y1="387.7" x2="193.09" y2="387.7" stroke="#444444" stroke-width="0.9" />
</svg>
</body></html>
